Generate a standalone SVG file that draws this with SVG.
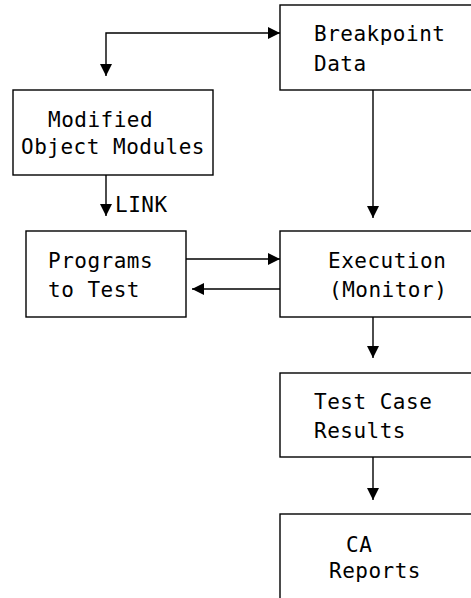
<svg xmlns="http://www.w3.org/2000/svg" width="471" height="598" viewBox="0 0 471 598">
  <style>
    .box { fill: #ffffff; stroke: #000000; stroke-width: 1.4; }
    .lbl { font-family: "DejaVu Sans Mono", "Liberation Mono", monospace; font-size: 21px; letter-spacing: 0.5px; fill: #000000; }
    .wire { fill: none; stroke: #000000; stroke-width: 1.4; }
  </style>
  <defs>
    <marker id="arrow" markerUnits="userSpaceOnUse" markerWidth="12" markerHeight="12" viewBox="0 0 12 12" refX="12" refY="6" orient="auto">
      <path d="M0,0 L12,6 L0,12 Z" fill="#000000"/>
    </marker>
  </defs>
  <rect width="471" height="598" fill="#ffffff"/>

  <g id="breakpoint-data">
    <rect class="box" x="280" y="5" width="200" height="85"/>
    <text class="lbl" x="314" y="41">Breakpoint</text>
    <text class="lbl" x="314" y="71">Data</text>
  </g>

  <g id="modified-object-modules">
    <rect class="box" x="13" y="90" width="200" height="85"/>
    <text class="lbl" x="48" y="127">Modified</text>
    <text class="lbl" x="21" y="154">Object Modules</text>
  </g>

  <g id="programs-to-test">
    <rect class="box" x="26" y="231" width="160" height="86"/>
    <text class="lbl" x="48" y="268">Programs</text>
    <text class="lbl" x="48" y="297">to Test</text>
  </g>

  <g id="execution-monitor">
    <rect class="box" x="280" y="231" width="200" height="86"/>
    <text class="lbl" x="328" y="268">Execution</text>
    <text class="lbl" x="329" y="297">(Monitor)</text>
  </g>

  <g id="test-case-results">
    <rect class="box" x="280" y="373" width="200" height="84"/>
    <text class="lbl" x="314" y="409">Test Case</text>
    <text class="lbl" x="314" y="438">Results</text>
  </g>

  <g id="ca-reports">
    <rect class="box" x="280" y="514" width="200" height="100"/>
    <text class="lbl" x="346" y="552">CA</text>
    <text class="lbl" x="329" y="578">Reports</text>
  </g>

  <g id="connectors">
    <!-- two-way link between Modified Object Modules and Breakpoint Data -->
    <path class="wire" d="M192,33 H106 V76" marker-end="url(#arrow)"/>
    <path class="wire" d="M192,33 H280" marker-end="url(#arrow)"/>
    <!-- LINK -->
    <path class="wire" d="M106,175 V216" marker-end="url(#arrow)"/>
    <text class="lbl" x="115" y="212">LINK</text>
    <!-- Programs to Test <-> Execution -->
    <path class="wire" d="M186,259 H280" marker-end="url(#arrow)"/>
    <path class="wire" d="M280,289 H192" marker-end="url(#arrow)"/>
    <!-- vertical flow on the right -->
    <path class="wire" d="M373,90 V218" marker-end="url(#arrow)"/>
    <path class="wire" d="M373,317 V358" marker-end="url(#arrow)"/>
    <path class="wire" d="M373,457 V500" marker-end="url(#arrow)"/>
  </g>
</svg>
